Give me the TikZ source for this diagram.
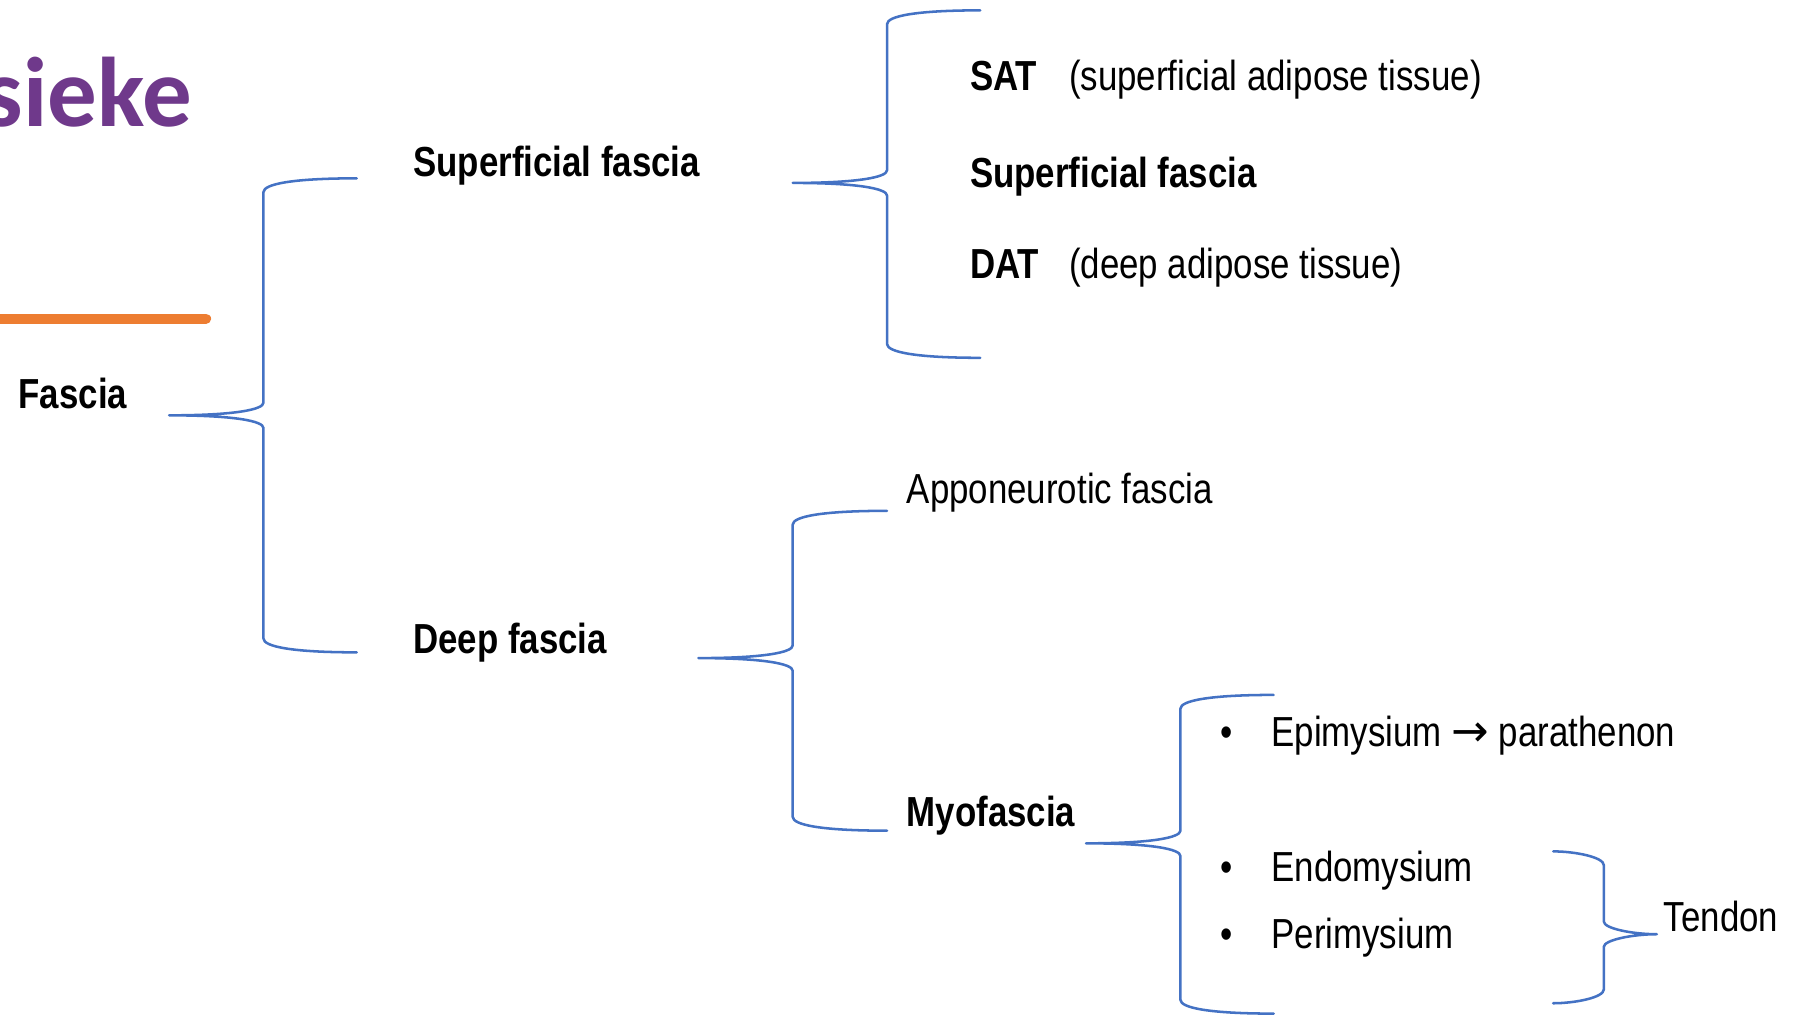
\documentclass[tikz,border=0pt]{standalone}
\usepackage{fontspec}
\setmainfont{Liberation Sans}[FakeStretch=0.83]
\newfontfamily\titlefont{Carlito}
\newfontfamily\symbolfont{DejaVu Sans}
\definecolor{bracecol}{RGB}{68,114,196}
\definecolor{titlecol}{RGB}{111,57,139}
\definecolor{linecol}{RGB}{237,125,49}
\tikzset{
 lbl/.style={anchor=base west, inner sep=0pt, font=\fontsize{36.5}{44}\selectfont},
 boldlbl/.style={anchor=base west, inner sep=0pt, font=\fontsize{36.5}{44}\selectfont\bfseries},
 bracestyle/.style={draw=bracecol, line width=2.2pt, line cap=round, line join=round},
}
% #1 xpoint, #2 xvert, #3 xtips, #4 ytop, #5 ymid, #6 ybot, #7 dir
\newcommand\mybrace[7]{%
\draw[bracestyle] (#3,#4) .. controls ({#2+(#7)*25},#4) and (#2,{#4+5}) .. (#2,{#4+12})
 -- (#2,{#5-11}) .. controls (#2,{#5-5}) and ({#2-(#7)*25},#5) .. (#1,#5)
 .. controls ({#2-(#7)*25},#5) and (#2,{#5+5}) .. (#2,{#5+11})
 -- (#2,{#6-12}) .. controls (#2,{#6-5}) and ({#2+(#7)*25},#6) .. (#3,#6);}
\begin{document}
\begin{tikzpicture}[x=1pt,y=-1pt]
\useasboundingbox (0,0) rectangle (1568,883);
\clip (0,0) rectangle (1568,883);
\fill[white] (0,0) rectangle (1568,883);
% title fragment and orange line
\node[anchor=base east, inner sep=0pt, text=titlecol, font=\titlefont\bfseries\fontsize{86}{90}\selectfont] (title) at (167,110) {sieke};
\draw[linecol, line width=9pt, line cap=round] (-10,277) -- (179,277);
% labels
\node[boldlbl] (fascia) at (16,355) {Fascia};
\node[boldlbl] (superf) at (359,153) {Superficial fascia};
\node[boldlbl] (deep) at (359,568) {Deep fascia};
\node[boldlbl] (sat) at (843,79) {SAT};
\node[lbl] (satx) at (929,79) {(superficial adipose tissue)};
\node[boldlbl] (superf2) at (843,163) {Superficial fascia};
\node[boldlbl] (dat) at (843,242) {DAT};
\node[lbl] (datx) at (929,242) {(deep adipose tissue)};
\node[lbl] (apo) at (788,438) {Apponeurotic fascia};
\node[boldlbl] (myo) at (788,718) {Myofascia};
\node[lbl] (b1) at (1061,649) {•};
\node[lbl] (epi) at (1105,649) {Epimysium {\symbolfont\fontsize{39}{44}\selectfont →} parathenon};
\node[lbl] (b2) at (1061,766) {•};
\node[lbl] (endo) at (1105,766) {Endomysium};
\node[lbl] (b3) at (1061,824) {•};
\node[lbl] (peri) at (1105,824) {Perimysium};
\node[lbl] (tendon) at (1446,810) {Tendon};
% braces
\mybrace{147}{229}{310}{155}{361}{567}{1}
\mybrace{689}{771}{852}{9}{159}{311}{1}
\mybrace{607}{689}{771}{444}{572}{722}{1}
\mybrace{944}{1026}{1107}{604}{733}{881}{1}
\mybrace{1440}{1394}{1350}{740}{812}{872}{-1}
\end{tikzpicture}
\end{document}
